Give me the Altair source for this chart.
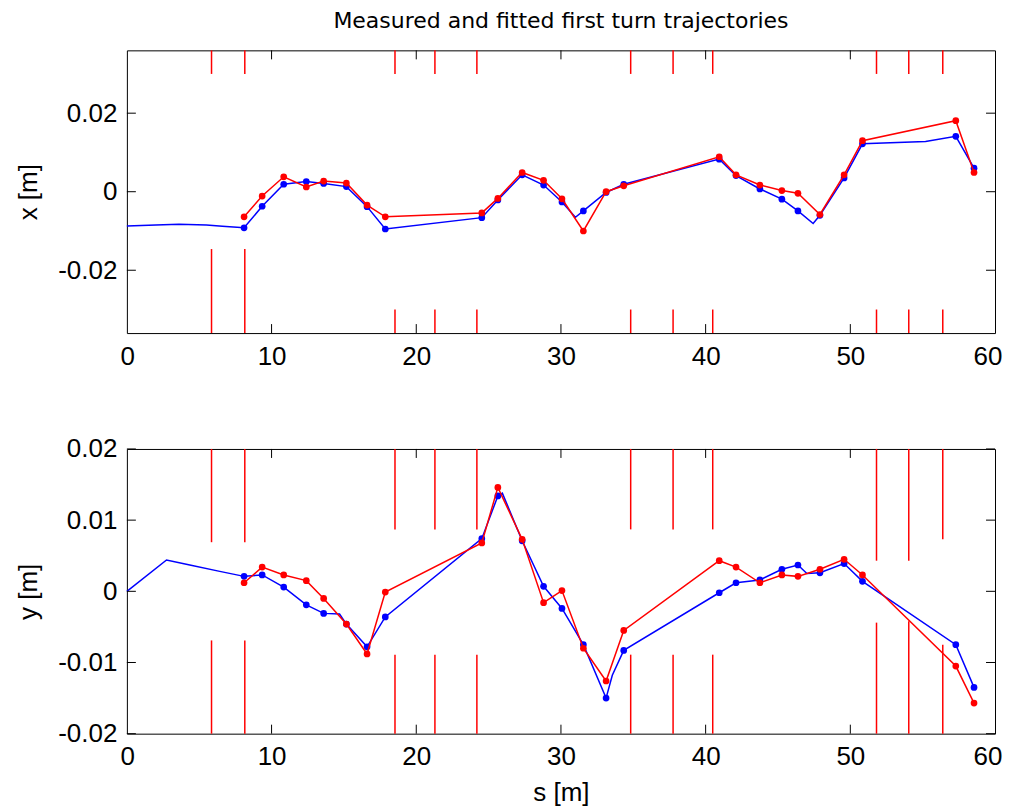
import altair as alt
import pandas as pd

# BPM positions (m)
bpm_s = [8.1, 9.35, 10.84, 12.4, 13.6, 15.17, 16.6, 17.86, 24.53, 25.64, 27.32, 28.8, 30.07,
         31.55, 33.12, 34.34, 40.94, 42.1, 43.75, 45.27, 46.38, 47.9, 49.57, 50.84, 57.29, 58.55]

# horizontal plane
x_meas = [-0.0064, -0.0011, 0.0038, 0.0012, 0.0027, 0.0022, -0.0034, -0.0064, -0.0054, -0.0017,
          0.0049, 0.0029, -0.0018, -0.0100, 0.0000, 0.0015, 0.0089, 0.0043, 0.0017, 0.0003,
          -0.0004, -0.0058, 0.0043, 0.0130, 0.0181, 0.0049]
x_fit_bpm = [-0.0092, -0.0037, 0.0019, 0.0026, 0.0021, 0.0013, -0.0038, -0.0095, -0.0066, -0.0021,
             0.0043, 0.0017, -0.0026, -0.0049, -0.0002, 0.0019, 0.0083, 0.0041, 0.0007, -0.0019,
             -0.0049, -0.0060, 0.0035, 0.0122, 0.0141, 0.0060]
x_fit_extra_s = [0.0, 2.0, 3.6, 5.5, 6.6, 31.0, 47.43, 55.2]
x_fit_extra = [-0.0087, -0.0085, -0.0083, -0.0085, -0.0088, -0.0065, -0.0081, 0.0128]

# vertical plane
y_meas = [0.0012, 0.0034, 0.0023, 0.0015, -0.0010, -0.0046, -0.0088, -0.0001, 0.0068, 0.0146,
          0.0073, -0.0016, 0.0001, -0.0080, -0.0126, -0.0055, 0.0043, 0.0034, 0.0012, 0.0023,
          0.0021, 0.0031, 0.0045, 0.0023, -0.0105, -0.0157]
y_fit_bpm = [0.0021, 0.0023, 0.0006, -0.0019, -0.0031, -0.0046, -0.0078, -0.0036, 0.0074, 0.0134,
             0.0071, 0.0007, -0.0024, -0.0075, -0.0150, -0.0083, -0.0002, 0.0012, 0.0016, 0.0031,
             0.0037, 0.0026, 0.0039, 0.0014, -0.0075, -0.0135]
y_fit_extra_s = [0.0, 2.74, 4.35, 6.42, 14.7, 25.95, 33.55, 47.0]
y_fit_extra = [0.0, 0.0044, 0.0037, 0.0028, -0.0032, 0.0138, -0.0118, 0.0025]

# magnet markers
mag_s = [5.85, 8.15, 18.53, 21.29, 24.19, 34.82, 37.75, 40.49, 51.81, 54.04, 56.39]
mag_x_top = [0.030] * 11
mag_x_bot = [-0.0146, -0.0146, -0.030, -0.030, -0.030, -0.030, -0.030, -0.030, -0.030, -0.030, -0.030]
mag_y_top = [0.0069, 0.0069, 0.0087, 0.0087, 0.0087, 0.0087, 0.0087, 0.0087, 0.0043, 0.0043, 0.0073]
mag_y_bot = [-0.0069, -0.0069, -0.0089, -0.0089, -0.0089, -0.0089, -0.0089, -0.0089, -0.0044, -0.0042, -0.0075]

x_ticks = [0, 10, 20, 30, 40, 50, 60]
x_inner_ticks = [10, 20, 30, 40, 50]
xpanel_ticks = [-0.02, 0, 0.02]
ypanel_ticks = [-0.02, -0.01, 0, 0.01, 0.02]

FONT = "Liberation Sans, Arial, sans-serif"
W = 869
BLUE = "#0000ff"
RED = "#ff0000"


def panel(meas, fit_bpm, ex_s, ex_v, mtop, mbot, ydom, yticks, ytitle, H, xtitle=None, title=None):
    xs = alt.Scale(domain=[0, 60], nice=False, zero=False)
    ys = alt.Scale(domain=ydom, nice=False, zero=False)
    xax_kw = dict(values=x_ticks, ticks=False, domain=False, grid=False, labelFlush=True,
                  labelFlushOffset=7, labelPadding=10, labelBound=False)
    if xtitle:
        xax_kw["title"] = xtitle
        xax_kw["titlePadding"] = 10
    else:
        xax_kw["title"] = ""
    xax = alt.Axis(**xax_kw)
    yax = alt.Axis(values=yticks, ticks=False, domain=False, grid=False, labelPadding=10,
                   title=ytitle, titlePadding=16,
                   labelExpr="(datum.value < 0 ? '-' : '') + (datum.value == 0 ? '0' : format(abs(datum.value), '.2f'))")
    X = alt.X("s:Q", scale=xs, axis=xax)
    Y = alt.Y("v:Q", scale=ys, axis=yax)

    curve = pd.DataFrame({"s": bpm_s + ex_s, "v": fit_bpm + ex_v}).sort_values("s")
    fit = pd.DataFrame({"s": bpm_s, "v": fit_bpm})
    mea = pd.DataFrame({"s": bpm_s, "v": meas})
    mt = pd.DataFrame({"s": mag_s, "v": mtop})
    mb = pd.DataFrame({"s": mag_s, "v": mbot})
    xt = pd.DataFrame({"s": x_inner_ticks})
    yt = pd.DataFrame({"v": yticks})

    layers = [
        alt.Chart(mt).mark_rule(color=RED, strokeWidth=1.5).encode(x=X, y=Y, y2=alt.value(0)),
        alt.Chart(mb).mark_rule(color=RED, strokeWidth=1.5).encode(x=X, y=Y, y2=alt.value(H)),
        alt.Chart(curve).mark_line(color=BLUE, strokeWidth=1.5).encode(x=X, y=Y),
        alt.Chart(fit).mark_circle(color=BLUE, size=45, opacity=1).encode(x=X, y=Y),
        alt.Chart(mea).mark_line(color=RED, strokeWidth=1.5).encode(x=X, y=Y),
        alt.Chart(mea).mark_circle(color=RED, size=45, opacity=1).encode(x=X, y=Y),
        alt.Chart(xt).mark_rule(color="black", strokeWidth=1).encode(x=X, y=alt.value(0), y2=alt.value(9)),
        alt.Chart(xt).mark_rule(color="black", strokeWidth=1).encode(x=X, y=alt.value(H), y2=alt.value(H - 9)),
        alt.Chart(yt).mark_rule(color="black", strokeWidth=1).encode(y=Y, x=alt.value(0), x2=alt.value(9)),
        alt.Chart(yt).mark_rule(color="black", strokeWidth=1).encode(y=Y, x=alt.value(W), x2=alt.value(W - 9)),
    ]
    props = dict(width=W, height=H)
    if title:
        props["title"] = alt.TitleParams(title, font="DejaVu Sans", fontSize=22, fontWeight="normal",
                                          color="black", anchor="middle", offset=17)
    return alt.layer(*layers).properties(**props)


top = panel(x_meas, x_fit_bpm, x_fit_extra_s, x_fit_extra, mag_x_top, mag_x_bot,
            [-0.036, 0.036], xpanel_ticks, "x [m]", 283,
            title="Measured and fitted first turn trajectories")
bottom = panel(y_meas, y_fit_bpm, y_fit_extra_s, y_fit_extra, mag_y_top, mag_y_bot,
               [-0.02, 0.02], ypanel_ticks, "y [m]", 285, xtitle="s [m]")

chart = alt.vconcat(top, bottom, spacing=65).properties(
    padding={"left": 7, "top": 0, "right": 0, "bottom": 0}
).configure_view(stroke="black", strokeWidth=1).configure_axis(
    labelFont=FONT, labelFontSize=26, labelColor="black",
    titleFont=FONT, titleFontSize=26, titleFontWeight="normal", titleColor="black"
)

chart.save("out.html", embed_options={"renderer": "svg", "actions": False})
